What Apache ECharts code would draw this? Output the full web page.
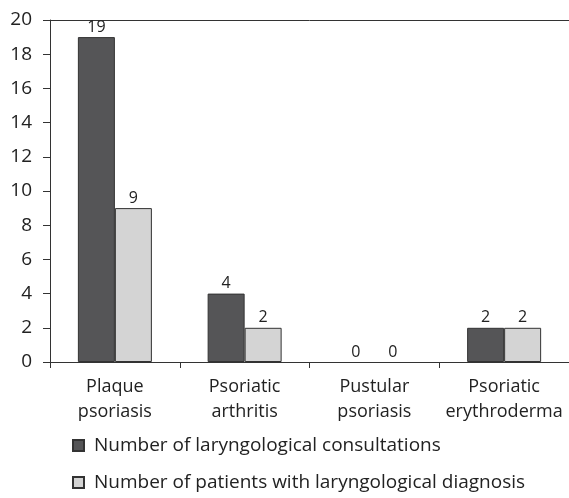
<!DOCTYPE html>
<html>
<head>
<meta charset="utf-8">
<script src="https://cdn.jsdelivr.net/npm/echarts@6/dist/echarts.min.js"></script>
<style>
  html, body { margin: 0; padding: 0; background: #fff; }
  #chart { width: 569px; height: 498px; }
</style>
</head>
<body>
<div id="chart"></div>
<script>
// 数据
const categories = ['Plaque\npsoriasis', 'Psoriatic\narthritis', 'Pustular\npsoriasis', 'Psoriatic\nerythroderma']
const consultations = [19, 4, 0, 2]
const patients = [9, 2, 0, 2]
const seriesNames = ['Number of laryngological consultations', 'Number of patients with laryngological diagnosis']
const yTicks = { min: 0, max: 20, interval: 2 }

const font = 'Open Sans'
const chart = echarts.init(document.getElementById('chart'))

const barStyle = (color) => ({
  color: color,
  borderColor: '#333',
  borderWidth: 1
})

// 值为 0 的柱子不画出来，只留标签
const toItems = (arr) => arr.map((v) => v === 0 ? { value: v, itemStyle: { borderWidth: 0, opacity: 0 } } : v)

const labelStyle = {
  show: true,
  position: 'top',
  distance: 2,
  color: '#222',
  fontFamily: font,
  fontSize: 16,
  opacity: 1
}

const legendText = {
  fontFamily: font,
  fontSize: 19,
  color: '#222',
  padding: [0, 0, 2, 5]
}

const makeLegend = (name, top) => ({
  orient: 'vertical',
  left: 72,
  top: top,
  padding: 0,
  icon: 'rect',
  itemWidth: 11,
  itemHeight: 11,
  textStyle: legendText,
  data: [name]
})

chart.setOption({
  animation: false,
  textStyle: { fontFamily: font },
  grid: { left: 50, right: -5, top: 20, bottom: 136 },
  legend: [
    makeLegend(seriesNames[0], 436),
    makeLegend(seriesNames[1], 473)
  ],
  xAxis: [
    {
      type: 'category',
      data: categories,
      axisLine: { lineStyle: { color: '#333', width: 1 } },
      axisTick: { show: true, length: 6, lineStyle: { color: '#333' } },
      axisLabel: { color: '#222', fontSize: 18, lineHeight: 25, margin: 12, interval: 0 }
    },
    {
      // 顶部边框线
      type: 'category',
      position: 'top',
      data: categories,
      axisLine: { show: true, lineStyle: { color: '#333', width: 1 } },
      axisTick: { show: false },
      axisLabel: { show: false }
    }
  ],
  yAxis: {
    type: 'value',
    min: yTicks.min,
    max: yTicks.max,
    interval: yTicks.interval,
    axisLine: { show: true, lineStyle: { color: '#333', width: 1 } },
    axisTick: { show: true, length: 7, lineStyle: { color: '#333' } },
    splitLine: { show: false },
    axisLabel: { color: '#222', fontSize: 19, margin: 18 }
  },
  series: [
    {
      name: seriesNames[0],
      type: 'bar',
      data: toItems(consultations),
      barWidth: 37,
      barGap: '0%',
      itemStyle: barStyle('#555557'),
      label: labelStyle
    },
    {
      name: seriesNames[1],
      type: 'bar',
      data: toItems(patients),
      barWidth: 37,
      barGap: '0%',
      itemStyle: barStyle('#d4d4d4'),
      label: labelStyle
    }
  ]
})
</script>
</body>
</html>
